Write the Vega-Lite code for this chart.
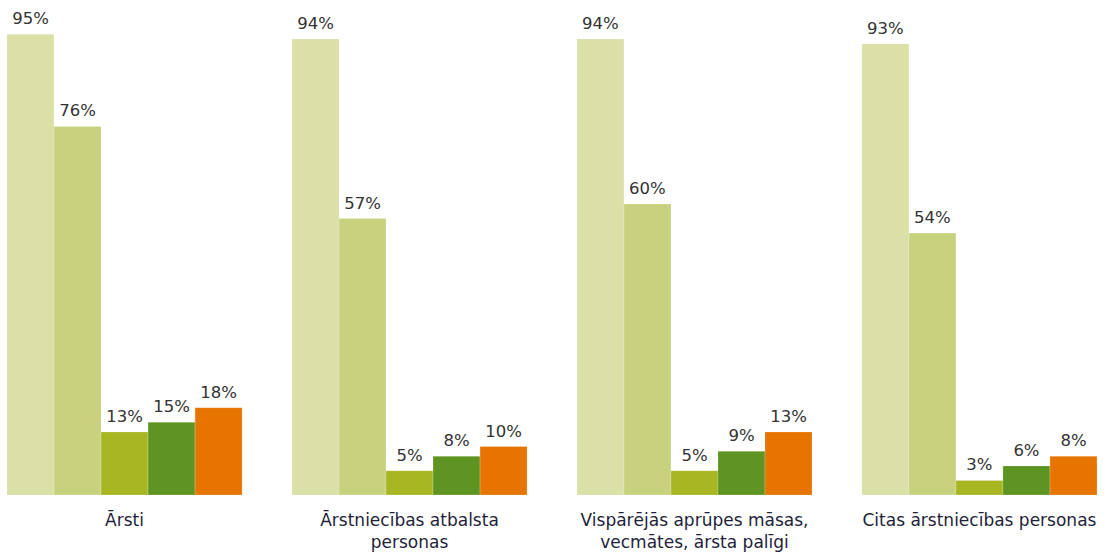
{
  "$schema": "https://vega.github.io/schema/vega-lite/v6.json",
  "width": 1090,
  "height": 485,
  "autosize": "none",
  "padding": {"left": 7, "top": 10, "right": 12, "bottom": 58},
  "background": "white",
  "data": {"values": [
    {"group": "Ārsti", "s": "a", "v": 95},
    {"group": "Ārsti", "s": "b", "v": 76},
    {"group": "Ārsti", "s": "c", "v": 13},
    {"group": "Ārsti", "s": "d", "v": 15},
    {"group": "Ārsti", "s": "e", "v": 18},
    {"group": "Ārstniecības atbalsta personas", "s": "a", "v": 94},
    {"group": "Ārstniecības atbalsta personas", "s": "b", "v": 57},
    {"group": "Ārstniecības atbalsta personas", "s": "c", "v": 5},
    {"group": "Ārstniecības atbalsta personas", "s": "d", "v": 8},
    {"group": "Ārstniecības atbalsta personas", "s": "e", "v": 10},
    {"group": "Vispārējās aprūpes māsas, vecmātes, ārsta palīgi", "s": "a", "v": 94},
    {"group": "Vispārējās aprūpes māsas, vecmātes, ārsta palīgi", "s": "b", "v": 60},
    {"group": "Vispārējās aprūpes māsas, vecmātes, ārsta palīgi", "s": "c", "v": 5},
    {"group": "Vispārējās aprūpes māsas, vecmātes, ārsta palīgi", "s": "d", "v": 9},
    {"group": "Vispārējās aprūpes māsas, vecmātes, ārsta palīgi", "s": "e", "v": 13},
    {"group": "Citas ārstniecības personas", "s": "a", "v": 93},
    {"group": "Citas ārstniecības personas", "s": "b", "v": 54},
    {"group": "Citas ārstniecības personas", "s": "c", "v": 3},
    {"group": "Citas ārstniecības personas", "s": "d", "v": 6},
    {"group": "Citas ārstniecības personas", "s": "e", "v": 8}
  ]},
  "transform": [{"calculate": "datum.v + '%'", "as": "label"}],
  "encoding": {
    "x": {
      "field": "group", "type": "nominal", "sort": null, "title": null,
      "scale": {"paddingInner": 0.175, "paddingOuter": 0},
      "axis": {
        "domain": false, "ticks": false, "labelAngle": 0, "labelLimit": 0,
        "labelFont": "DejaVu Sans", "labelFontSize": 17, "labelColor": "#1f1f3a",
        "labelPadding": 17, "labelLineHeight": 22, "labelBaseline": "top",
        "labelExpr": "datum.value == 'Ārstniecības atbalsta personas' ? ['Ārstniecības atbalsta', 'personas'] : datum.value == 'Vispārējās aprūpes māsas, vecmātes, ārsta palīgi' ? ['Vispārējās aprūpes māsas,', 'vecmātes, ārsta palīgi'] : datum.value"
      }
    },
    "xOffset": {"field": "s", "type": "nominal", "sort": ["a", "b", "c", "d", "e"], "scale": {"paddingInner": 0, "paddingOuter": 0}},
    "y": {"field": "v", "type": "quantitative", "scale": {"domain": [0, 100], "nice": false}, "axis": null}
  },
  "layer": [
    {
      "mark": {"type": "bar", "stroke": "white", "strokeOpacity": 0.2, "strokeWidth": 1},
      "encoding": {
        "color": {"field": "s", "type": "nominal", "legend": null,
          "scale": {"domain": ["a", "b", "c", "d", "e"], "range": ["#dae0a6", "#c8d27e", "#a8b623", "#5e9422", "#e87400"]}}
      }
    },
    {
      "mark": {"type": "text", "baseline": "bottom", "dy": -7, "font": "DejaVu Sans", "fontSize": 16.5, "color": "#333333"},
      "encoding": {"text": {"field": "label", "type": "nominal"}}
    }
  ],
  "config": {"view": {"stroke": null}}
}
